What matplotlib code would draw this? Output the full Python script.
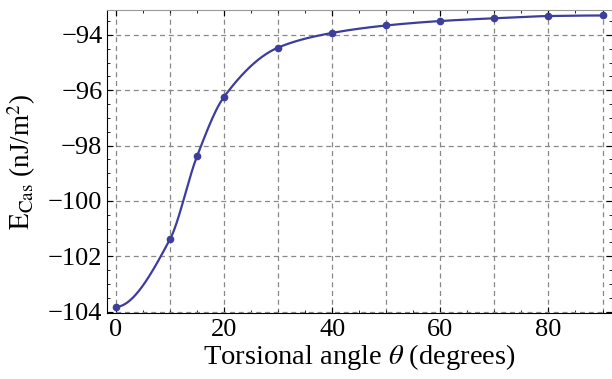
import numpy as np
import matplotlib
matplotlib.use('Agg')
import matplotlib.pyplot as plt
from matplotlib.ticker import MultipleLocator

# torsional angle (degrees) and Casimir energy (nJ/m^2)
theta = [0, 10, 15, 20, 30, 40, 50, 60, 70, 80, 90]
e_cas = [-103.83, -101.39, -98.39, -96.24, -94.46, -93.93, -93.66,
         -93.50, -93.40, -93.32, -93.30]

plt.rcParams['font.family'] = 'Liberation Serif'
plt.rcParams['mathtext.fontset'] = 'stix'

col = '#3d3d9c'


def pchip(x, y, xs):
    # monotone cubic, only used to draw the smooth curve through the points
    x = np.asarray(x, float)
    y = np.asarray(y, float)
    h = np.diff(x)
    d = np.diff(y) / h
    m = np.zeros_like(y)
    for k in range(1, len(x) - 1):
        if d[k - 1] * d[k] > 0:
            w1 = 2 * h[k] + h[k - 1]
            w2 = h[k] + 2 * h[k - 1]
            m[k] = (w1 + w2) / (w1 / d[k - 1] + w2 / d[k])
    m[0] = ((2 * h[0] + h[1]) * d[0] - h[0] * d[1]) / (h[0] + h[1])
    if np.sign(m[0]) != np.sign(d[0]):
        m[0] = 0
    m[-1] = ((2 * h[-1] + h[-2]) * d[-1] - h[-1] * d[-2]) / (h[-1] + h[-2])
    if np.sign(m[-1]) != np.sign(d[-1]):
        m[-1] = 0
    i = np.clip(np.searchsorted(x, xs) - 1, 0, len(x) - 2)
    t = (xs - x[i]) / h[i]
    h00 = 2 * t**3 - 3 * t**2 + 1
    h10 = t**3 - 2 * t**2 + t
    h01 = -2 * t**3 + 3 * t**2
    h11 = t**3 - t**2
    return h00 * y[i] + h10 * h[i] * m[i] + h01 * y[i + 1] + h11 * h[i] * m[i + 1]


fig = plt.figure(figsize=(6.12, 3.79), dpi=100)
ax = fig.add_axes([0.1743, 0.174, 0.8252, 0.799])

xs = np.linspace(theta[0], theta[-1], 600)
ax.plot(xs, pchip(theta, e_cas, xs), color=col, lw=1.6, zorder=3)
ax.plot(theta, e_cas, 'o', color=col, ms=4.5, zorder=4)

ax.set_xlim(-1.7, 91.7)
ax.set_ylim(-104.05, -93.11)
ax.xaxis.set_major_locator(MultipleLocator(20))
ax.xaxis.set_minor_locator(MultipleLocator(5))
ax.yaxis.set_major_locator(MultipleLocator(2))
ax.yaxis.set_minor_locator(MultipleLocator(0.5))

# grid at every 10 degrees in x
for xv in range(0, 100, 10):
    ax.axvline(xv, color='#888888', ls=(0, (4, 3)), lw=0.9, zorder=1)
ax.grid(axis='y', which='major', color='#888888', ls=(0, (4, 3)), lw=0.9)

ax.tick_params(which='both', direction='in', top=True, right=True,
               labelsize=19)
ax.tick_params(axis='y', which='major', pad=3)
ax.tick_params(axis='x', which='major', pad=4)
ax.tick_params(which='major', length=4, width=0.8)
ax.tick_params(which='minor', length=2.5, width=0.6)
for s in ['top', 'right']:
    ax.spines[s].set_color('#999999')

ax.set_xlabel(r'Torsional angle $\theta$ (degrees)', fontsize=20.5, labelpad=1)
ax.set_ylabel(r'$\mathrm{E_{Cas}}$ (nJ/m$^2$)', fontsize=19.5)
ax.yaxis.set_label_coords(-0.135, 0.5)

fig.savefig('out.png', dpi=100)
